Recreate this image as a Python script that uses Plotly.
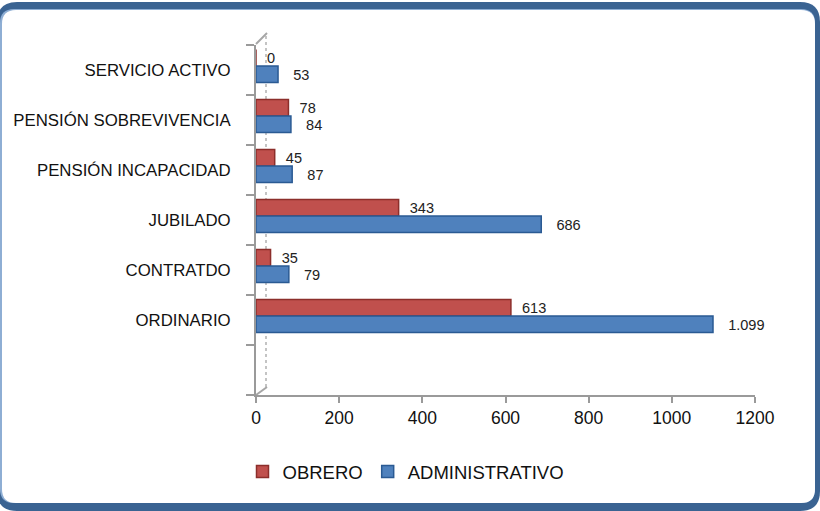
import plotly.graph_objects as go

# ---- data (bottom to top) ----
categories = ["ORDINARIO", "CONTRATDO", "JUBILADO", "PENSIÓN INCAPACIDAD",
              "PENSIÓN SOBREVIVENCIA", "SERVICIO ACTIVO"]
obrero = [613, 35, 343, 45, 78, 0]
administrativo = [1099, 79, 686, 87, 84, 53]
x_ticks = [0, 200, 400, 600, 800, 1000, 1200]
series_names = ["OBRERO", "ADMINISTRATIVO"]

positions = list(range(1, len(categories) + 1))  # slot 0 left empty at bottom

W, H = 820, 511
L, R, T, B = 256, 755, 45, 395  # plot area in pixels
FONT = "Arial, Liberation Sans, sans-serif"


def px(x):
    return (x - L) / (R - L)


def py(y):
    return (B - y) / (B - T)


RED, RED_D = "#c0504d", "#8c2e2b"
BLUE, BLUE_D = "#4f81bd", "#2a5a93"

fig = go.Figure()
fig.add_trace(go.Bar(
    y=positions, x=obrero, orientation="h", name=series_names[0],
    marker=dict(color=RED, line=dict(color=RED_D, width=1.5)),
    width=0.33, offset=0.08,
    texttemplate="  %{x:,}", textposition="outside",
    textfont=dict(family=FONT, size=15, color="#222"),
    cliponaxis=False,
))
fig.add_trace(go.Bar(
    y=positions, x=administrativo, orientation="h", name=series_names[1],
    marker=dict(color=BLUE, line=dict(color=BLUE_D, width=1.5)),
    width=0.33, offset=-0.25,
    texttemplate="   %{x:,}", textposition="outside",
    textfont=dict(family=FONT, size=15, color="#222"),
    cliponaxis=False,
))


def rrect(x0, y0, x1, y1, r):
    return (f"M{px(x0 + r)},{py(y0)} L{px(x1 - r)},{py(y0)} "
            f"Q{px(x1)},{py(y0)} {px(x1)},{py(y0 + r)} "
            f"L{px(x1)},{py(y1 - r)} Q{px(x1)},{py(y1)} {px(x1 - r)},{py(y1)} "
            f"L{px(x0 + r)},{py(y1)} Q{px(x0)},{py(y1)} {px(x0)},{py(y1 - r)} "
            f"L{px(x0)},{py(y0 + r)} Q{px(x0)},{py(y0)} {px(x0 + r)},{py(y0)} Z")


shapes = [
    dict(type="path", xref="paper", yref="paper", path=rrect(-3, 2, 820, 511, 20),
         fillcolor="#3a6392", line=dict(width=0), layer="below"),
    dict(type="path", xref="paper", yref="paper", path=rrect(0, 9, 815, 503, 14),
         fillcolor="#8eaed4", line=dict(width=0), layer="below"),
    dict(type="path", xref="paper", yref="paper", path=rrect(2, 10, 815, 503, 14),
         fillcolor="white", line=dict(width=0), layer="below"),
    # 3D back wall lines
    dict(type="line", xref="paper", yref="paper", x0=px(266), x1=px(266),
         y0=py(387), y1=py(34), line=dict(color="#c4c4c4", width=2, dash="dot"),
         layer="below"),
    dict(type="line", xref="paper", yref="paper", x0=px(256), x1=px(267),
         y0=py(395), y1=py(387), line=dict(color="#a6a6a6", width=2),
         layer="below"),
    dict(type="line", xref="paper", yref="paper", x0=px(256), x1=px(267),
         y0=py(44), y1=py(33), line=dict(color="#a6a6a6", width=2),
         layer="below"),
]

fig.update_layout(
    width=W, height=H,
    margin=dict(l=L, r=W - R, t=T, b=H - B, pad=0, autoexpand=False),
    paper_bgcolor="white", plot_bgcolor="rgba(0,0,0,0)",
    barmode="overlay",
    separators=",.",
    showlegend=True,
    legend=dict(orientation="h", x=px(406), xanchor="center",
                y=py(472), yanchor="middle",
                font=dict(family=FONT, size=18.5, color="#111"),
                traceorder="normal", itemwidth=30),
    font=dict(family=FONT, size=17, color="#111"),
    shapes=shapes,
    xaxis=dict(range=[0, 1200], tickvals=x_ticks, ticktext=[str(v) for v in x_ticks],
               showgrid=False, zeroline=False, showline=True, linecolor="#9a9a9a",
               linewidth=2, ticks="outside", ticklen=6, tickcolor="#9a9a9a",
               tickwidth=2, tickfont=dict(family=FONT, size=17.5, color="#111")),
    yaxis=dict(range=[-0.5, len(categories) + 0.5], tickvals=positions,
               ticktext=categories, showgrid=False, zeroline=False,
               showline=True, linecolor="#9a9a9a", linewidth=2, ticks="",
               ticklabelstandoff=20,
               tickfont=dict(family=FONT, size=16.8, color="#111"),
               minor=dict(tickvals=[p - 0.5 for p in range(0, len(categories) + 2)],
                          ticks="outside", ticklen=8, tickcolor="#9a9a9a",
                          tickwidth=2, showgrid=False)),
)

fig.write_html("out.html", config={"displayModeBar": False},
               post_script="document.body.style.margin='0';")
